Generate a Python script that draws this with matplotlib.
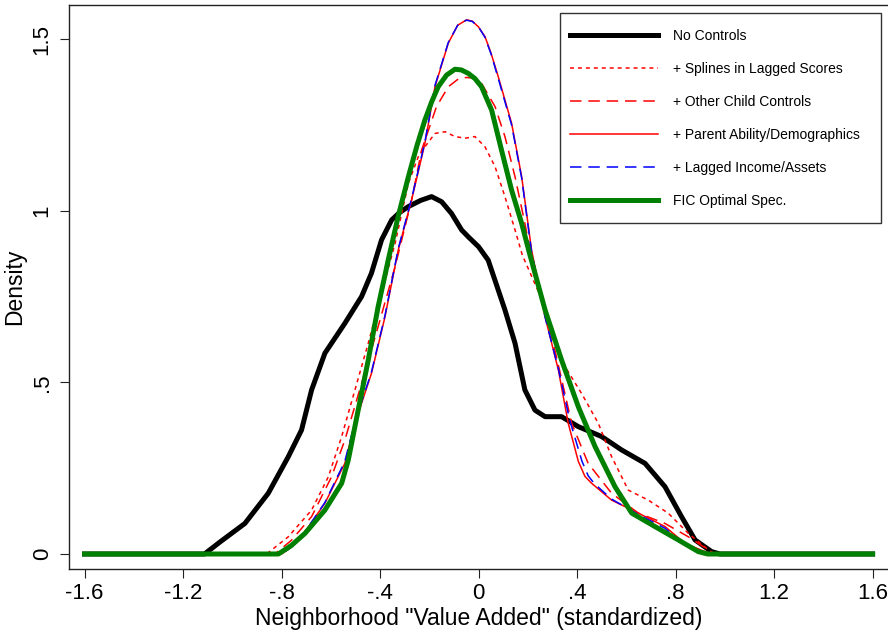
import matplotlib
matplotlib.use('Agg')
import matplotlib.pyplot as plt
from matplotlib.patches import Rectangle

plt.rcParams['font.family'] = ['Liberation Sans', 'DejaVu Sans']

# 各曲线的读数 (x, density)
black_x = [-1.6, -1.113, -1.05, -0.949, -0.854, -0.773, -0.719, -0.678, -0.624, -0.543, -0.475,
           -0.435, -0.394, -0.353, -0.32, -0.285, -0.235, -0.191, -0.15, -0.11, -0.069, -0.042,
           0.0, 0.039, 0.07, 0.107, 0.148, 0.188, 0.229, 0.27, 0.337, 0.405, 0.5, 0.581, 0.676,
           0.757, 0.824, 0.879, 0.946, 0.98, 1.6]
black_y = [0, 0, 0.035, 0.089, 0.177, 0.283, 0.361, 0.478, 0.585, 0.672, 0.750,
           0.818, 0.915, 0.973, 0.995, 1.012, 1.03, 1.041, 1.026, 0.992, 0.944, 0.924,
           0.895, 0.856, 0.79, 0.711, 0.614, 0.478, 0.419, 0.400, 0.400, 0.371, 0.342, 0.303, 0.264,
           0.196, 0.109, 0.041, 0.007, 0, 0]

spline_x = [-1.6, -0.861, -0.773, -0.678, -0.610, -0.556, -0.502, -0.448, -0.394, -0.339, -0.285,
            -0.245, -0.218, -0.177, -0.136, -0.096, -0.055, -0.015, 0.026, 0.067, 0.107, 0.148,
            0.178, 0.27, 0.351, 0.418, 0.486, 0.54, 0.608, 0.689, 0.770, 0.852, 0.933, 0.96, 1.6]
spline_y = [0, 0, 0.05, 0.128, 0.225, 0.342, 0.478, 0.614, 0.759, 0.905, 1.080,
            1.157, 1.186, 1.225, 1.230, 1.216, 1.211, 1.216, 1.186, 1.128, 1.041, 0.944,
            0.87, 0.720, 0.546, 0.468, 0.381, 0.284, 0.186, 0.157, 0.119, 0.060, 0.012, 0, 0]

child_x = [-1.6, -0.827, -0.76, -0.678, -0.597, -0.543, -0.475, -0.408, -0.339, -0.272, -0.231,
           -0.171, -0.123, -0.08, -0.05, -0.015, 0.012, 0.067, 0.107, 0.148, 0.188, 0.215, 0.243,
           0.310, 0.378, 0.445, 0.54, 0.649, 0.757, 0.852, 0.933, 0.96, 1.6]
child_y = [0, 0, 0.04, 0.109, 0.225, 0.332, 0.497, 0.662, 0.837, 1.031, 1.177,
           1.303, 1.361, 1.385, 1.388, 1.386, 1.371, 1.303, 1.216, 1.099, 0.963, 0.866, 0.788,
           0.594, 0.381, 0.264, 0.177, 0.119, 0.089, 0.050, 0.012, 0, 0]

parent_x = [-1.6, -0.8, -0.76, -0.719, -0.624, -0.543, -0.502, -0.435, -0.380, -0.326, -0.272,
            -0.218, -0.177, -0.123, -0.085, -0.049, -0.025, 0.0, 0.026, 0.05, 0.080, 0.134, 0.175,
            0.215, 0.27, 0.324, 0.364, 0.405, 0.432, 0.459, 0.54, 0.649, 0.757, 0.838, 0.919,
            0.95, 1.6]
parent_y = [0, 0, 0.02, 0.05, 0.148, 0.264, 0.381, 0.526, 0.691, 0.886, 1.031,
            1.196, 1.361, 1.488, 1.54, 1.556, 1.552, 1.535, 1.507, 1.46, 1.39, 1.255, 1.099,
            0.886, 0.691, 0.536, 0.381, 0.270, 0.226, 0.206, 0.157, 0.119, 0.080, 0.031, 0.007,
            0, 0]

income_x = [-1.6, -0.8, -0.76, -0.719, -0.624, -0.543, -0.502, -0.435, -0.380, -0.326, -0.272,
            -0.218, -0.177, -0.123, -0.085, -0.049, -0.025, 0.0, 0.026, 0.05, 0.080, 0.134, 0.175,
            0.215, 0.27, 0.324, 0.37, 0.42, 0.445, 0.47, 0.54, 0.649, 0.757, 0.838, 0.919, 0.95, 1.6]
income_y = [0, 0, 0.02, 0.05, 0.15, 0.27, 0.385, 0.53, 0.695, 0.89, 1.035,
            1.2, 1.365, 1.49, 1.54, 1.555, 1.551, 1.535, 1.505, 1.458, 1.385, 1.25, 1.095,
            0.88, 0.69, 0.54, 0.39, 0.27, 0.228, 0.205, 0.16, 0.115, 0.075, 0.025, 0.005, 0, 0]

fic_x = [-1.6, -0.813, -0.76, -0.705, -0.624, -0.556, -0.529, -0.489, -0.448, -0.408, -0.367,
         -0.326, -0.285, -0.25, -0.218, -0.19, -0.164, -0.13, -0.096, -0.07, -0.042, -0.015,
         0.012, 0.053, 0.093, 0.134, 0.175, 0.203, 0.27, 0.337, 0.405, 0.473, 0.554, 0.622,
         0.716, 0.811, 0.892, 0.93, 1.6]
fic_y = [0, 0, 0.025, 0.060, 0.128, 0.206, 0.274, 0.419, 0.565, 0.720, 0.856,
         0.985, 1.099, 1.19, 1.264, 1.318, 1.361, 1.395, 1.412, 1.41, 1.400, 1.385,
         1.361, 1.293, 1.177, 1.060, 0.963, 0.886, 0.711, 0.565, 0.429, 0.313, 0.196, 0.119,
         0.080, 0.041, 0.007, 0, 0]

labels = ['No Controls', '+ Splines in Lagged Scores', '+ Other Child Controls',
          '+ Parent Ability/Demographics', '+ Lagged Income/Assets', 'FIC Optimal Spec.']
xticks = [-1.6, -1.2, -0.8, -0.4, 0, 0.4, 0.8, 1.2, 1.6]
xtick_labels = ['-1.6', '-1.2', '-.8', '-.4', '0', '.4', '.8', '1.2', '1.6']
yticks = [0, 0.5, 1, 1.5]
ytick_labels = ['0', '.5', '1', '1.5']

W, H = 888, 632
fig = plt.figure(figsize=(W / 100, H / 100), dpi=100)
ax = fig.add_axes([69.3 / W, 63 / H, (W - 69.3) / W, (569 - 4.7) / H])

h1, = ax.plot(black_x, black_y, color='black', lw=3.6, solid_joinstyle='round')
h2, = ax.plot(spline_x, spline_y, color='red', lw=1.1, dashes=(2.6, 2.6))
h3, = ax.plot(child_x, child_y, color='red', lw=1.1, dashes=(7.5, 4.5))
h4, = ax.plot(parent_x, parent_y, color='red', lw=1.1, solid_joinstyle='round')
h5, = ax.plot(income_x, income_y, color='blue', lw=1.1, dashes=(7.5, 4.5))
h6, = ax.plot(fic_x, fic_y, color='#008000', lw=3.6, solid_joinstyle='round')

ax.set_xlim(-1.662, 1.6626)
ax.set_ylim(-0.0437, 1.600)
ax.set_xticks(xticks)
ax.set_xticklabels(xtick_labels)
ax.set_yticks(yticks)
ax.set_yticklabels(ytick_labels, rotation=90, va='center')
ax.tick_params(axis='both', length=6.5, width=0.8, labelsize=16, color='#222222')
ax.tick_params(axis='x', pad=3.5)
ax.tick_params(axis='y', pad=5.5)
ax.spines['right'].set_visible(False)
for s in ['left', 'bottom', 'top']:
    ax.spines[s].set_linewidth(1.0)
    ax.spines[s].set_color('#222222')

fig.text(479 / W, 6.5 / H, 'Neighborhood "Value Added" (standardized)', ha='center',
         va='baseline', fontsize=16.5)
fig.text(15 / W, 1 - 287 / H, 'Density', rotation=90, ha='center', va='center', fontsize=16.5)

# 图例
fig.add_artist(Rectangle((560 / W, 1 - 222.7 / H), 321 / W, 210 / H, transform=fig.transFigure,
                         fill=False, ec='#333333', lw=1.0))
fig.legend([h1, h2, h3, h4, h5, h6], labels, loc='upper left',
           bbox_to_anchor=(570 / W, 1 - 28.5 / H), frameon=False, fontsize=10,
           handlelength=6.33, handletextpad=1.08, labelspacing=1.37,
           borderpad=0, borderaxespad=0)

fig.savefig('out.png', dpi=100)
